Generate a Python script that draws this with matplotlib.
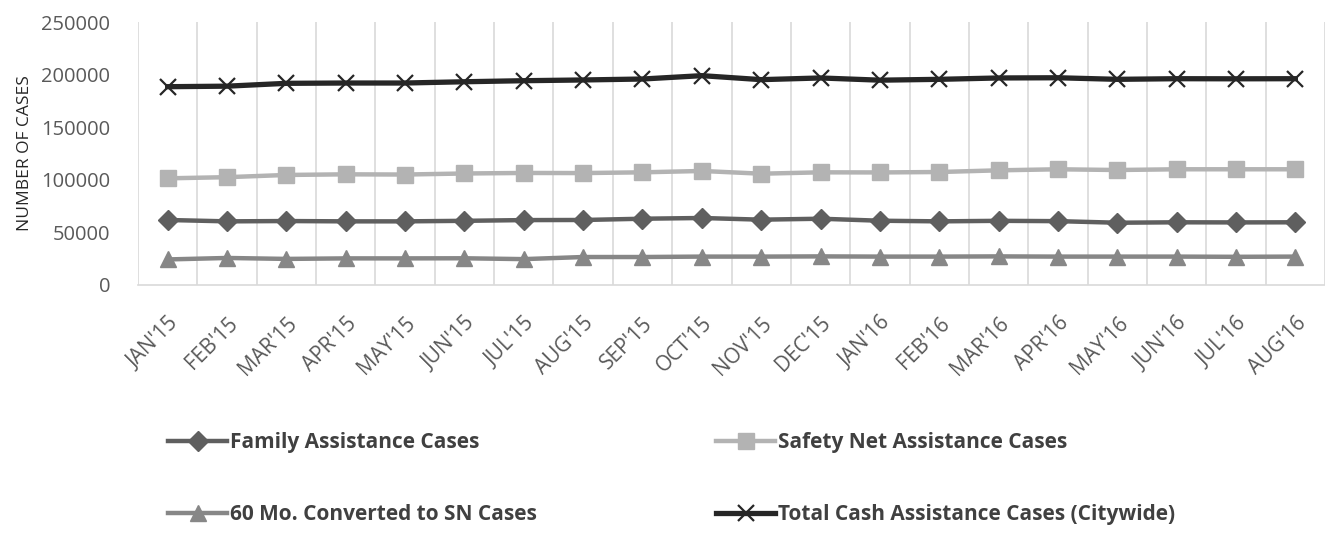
import matplotlib
matplotlib.use('Agg')
import matplotlib.pyplot as plt
import numpy as np

months = ["JAN'15", "FEB'15", "MAR'15", "APR'15", "MAY'15", "JUN'15", "JUL'15",
          "AUG'15", "SEP'15", "OCT'15", "NOV'15", "DEC'15", "JAN'16", "FEB'16",
          "MAR'16", "APR'16", "MAY'16", "JUN'16", "JUL'16", "AUG'16"]

family = [61800, 60500, 60800, 60500, 60500, 61000, 61700, 61800, 63000, 63700,
          62100, 63000, 61100, 60500, 61000, 60700, 59200, 59600, 59500, 59600]
safety = [101400, 102500, 104600, 105200, 105000, 106000, 106500, 106400, 107100, 108400,
          105800, 107100, 107000, 107400, 109000, 110000, 109300, 110000, 110000, 110000]
sixty = [24300, 25700, 24800, 25300, 25300, 25400, 24600, 26600, 26600, 27000,
         27000, 27200, 27000, 27000, 27200, 27000, 27000, 27000, 26800, 27000]
total = [188500, 189000, 191700, 192000, 192000, 193200, 194200, 194900, 195800, 199000,
         195200, 196800, 194700, 195500, 196800, 197000, 195500, 196100, 196000, 196100]

labels = ['Family Assistance Cases', 'Safety Net Assistance Cases',
          '60 Mo. Converted to SN Cases', 'Total Cash Assistance Cases (Citywide)']

matplotlib.rc('font', family='Open Sans')

fig = plt.figure(figsize=(13.25, 5.33), dpi=100)
ax = fig.add_axes([138/1325, 1 - 285/533, 1187/1325, 263/533])

x = np.arange(len(months))
h1, = ax.plot(x, family, '-D', color='#5f5f5f', lw=3.2, ms=10, label=labels[0])
h2, = ax.plot(x, safety, '-s', color='#b3b3b3', lw=3.2, ms=12, label=labels[1])
h3, = ax.plot(x, sixty, '-^', color='#878787', lw=3.2, ms=12, label=labels[2])
h4, = ax.plot(x, total, '-x', color='#262626', lw=3.8, ms=12, mew=1.6, label=labels[3])

ax.set_xlim(-0.5, len(months) - 0.5)
ax.set_ylim(0, 250000)
ax.set_yticks(np.arange(0, 250001, 50000))
ax.set_xticks(x)
ax.set_xticklabels(months, rotation=45, ha='right', va='top', rotation_mode='anchor',
                   fontsize=15, color='#595959')
ax.set_xticks(np.arange(-0.5, len(months)), minor=True)
ax.tick_params(axis='x', which='both', length=0, pad=20)
ax.tick_params(axis='y', length=0, labelsize=14.5, labelcolor='#595959', pad=20)
ax.grid(axis='x', which='minor', color='#d9d9d9', lw=1.2)
ax.set_axisbelow(True)
for s in ['top', 'right', 'left']:
    ax.spines[s].set_visible(False)
ax.spines['bottom'].set_color('#d9d9d9')
ax.spines['bottom'].set_linewidth(1.2)
ax.set_ylabel('NUMBER OF CASES', fontsize=12.5, color='#262626', labelpad=6)

leg_kw = dict(frameon=False, handlelength=2.85, handletextpad=0.15, labelspacing=2.45,
              prop={'weight': 'bold', 'size': 15}, labelcolor='#404040',
              loc='upper left', borderaxespad=0, borderpad=0)
l1 = fig.legend([h1, h3], [labels[0], labels[2]],
                bbox_to_anchor=(168/1325, 1 - 432/533), **leg_kw)
l2 = fig.legend([h2, h4], [labels[1], labels[3]],
                bbox_to_anchor=(716/1325, 1 - 432/533), **leg_kw)

fig.savefig('out.png', dpi=100)
